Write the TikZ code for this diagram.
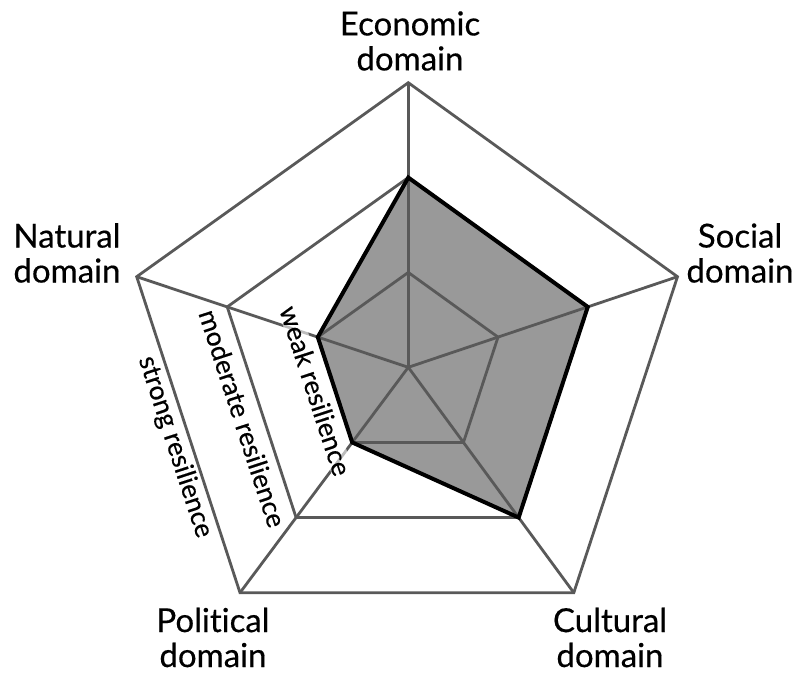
\documentclass[tikz,border=0pt]{standalone}
\usepackage{fontspec}
\setmainfont{Lato}[Ligatures=NoCommon, FakeBold=0.4]
\usetikzlibrary{calc}
\definecolor{gridgray}{HTML}{595959}
\definecolor{areagray}{HTML}{999999}
\begin{document}
\begin{tikzpicture}[x=1pt,y=-1pt,
  gridline/.style={draw=gridgray, line width=2.8pt, line join=miter},
  area/.style={fill=areagray},
  outline/.style={draw=black, line width=4pt, line join=miter},
  domlab/.style={font=\fontsize{33}{35}\selectfont, align=center, inner sep=0pt},
  reslab/.style={font=\fontsize{26.5}{28}\selectfont, rotate=-71.9, fill=white, fill opacity=0.6, text opacity=1, inner sep=1pt}]
\useasboundingbox (0,0) rectangle (801,677);
% centre and outer vertices
\coordinate (C) at (408.3,367.3);
\coordinate (oT) at (408.3,82.7);
\coordinate (oR) at (677.5,276.7);
\coordinate (oBR) at (573.8,592.7);
\coordinate (oBL) at (240.0,592.7);
\coordinate (oL) at (136.7,276.7);
% middle and inner rings
\foreach \v in {T,R,BR,BL,L}{
  \coordinate (m\v) at ($(C)!0.6667!(o\v)$);
  \coordinate (i\v) at ($(C)!0.3333!(o\v)$);
}
% data polygon
\coordinate (dT) at (mT);
\coordinate (dR) at (mR);
\coordinate (dBR) at (mBR);
\coordinate (dBL) at (iBL);
\coordinate (dL) at (iL);
\path[area] (dT) -- (dR) -- (dBR) -- (dBL) -- (dL) -- cycle;
% grid
\draw[gridline] (oT) -- (oR) -- (oBR) -- (oBL) -- (oL) -- cycle;
\draw[gridline] (mT) -- (mR) -- (mBR) -- (mBL) -- (mL) -- cycle;
\draw[gridline] (iT) -- (iR) -- (iBR) -- (iBL) -- (iL) -- cycle;
\foreach \v in {T,R,BR,BL,L}{
  \draw[gridline] (C) -- (o\v);
}
\draw[outline] (dT) -- (dR) -- (dBR) -- (dBL) -- (dL) -- cycle;
% domain labels
\node[domlab] (econ) at (410,41) {Economic\\domain};
\node[domlab] (soc) at (740,253) {Social\\domain};
\node[domlab] (nat) at (67,253) {Natural\\domain};
\node[domlab] (pol) at (213,637.5) {Political\\domain};
\node[domlab] (cul) at (610,637.5) {Cultural\\domain};
% resilience labels
\node[reslab] (weak) at (315.7,390.7) {weak resilience};
\node[reslab] (moderate) at (242.7,418.3) {moderate resilience};
\node[reslab] (strong) at (175,447) {strong resilience};
\end{tikzpicture}
\end{document}
